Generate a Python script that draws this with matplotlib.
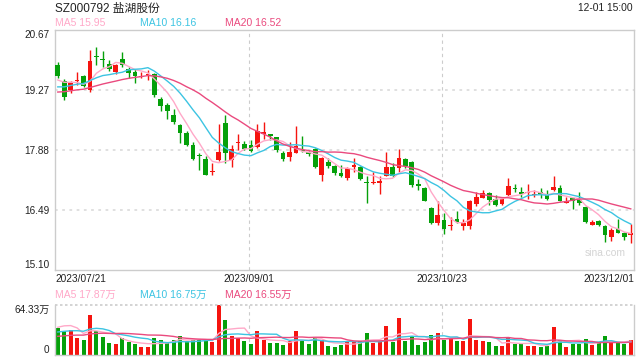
import numpy as np
import pandas as pd
import matplotlib
matplotlib.use('Agg')
import matplotlib.pyplot as plt

plt.rcParams['font.family'] = ['Liberation Sans', 'Noto Sans CJK SC', 'DejaVu Sans']

# daily candles 2023/07/21 .. 2023/12/01
opens = [19.86, 19.49, 19.28, 19.49, 19.60, 19.28, 20.05, 20.00, 19.88, 19.69,
         20.00, 19.77, 19.70, 19.58, 19.62, 19.65, 19.08, 18.93, 18.70, 18.47,
         18.27, 18.00, 17.75, 17.67, 17.37, 17.65, 18.51, 17.65, 18.04, 18.02,
         18.00, 17.95, 18.26, 18.25, 18.18, 17.81, 17.72, 17.82, 17.89, 17.84,
         17.91, 17.31, 17.61, 17.51, 17.36, 17.23, 17.50, 17.50, 17.14, 17.12,
         17.13, 17.28, 17.48, 17.46, 17.68, 17.61, 17.08, 17.00, 16.55, 16.20,
         16.26, 16.11, 16.28, 16.12, 16.11, 16.63, 16.76, 16.88, 16.74, 16.63,
         16.84, 16.99, 16.92, 16.88, 16.85, 16.90, 16.86, 16.96, 17.01, 16.66,
         16.76, 16.73, 16.57, 16.14, 16.24, 16.12, 15.86, 16.05, 15.97, 15.91]
highs = [19.93, 19.53, 19.49, 19.69, 19.63, 20.21, 20.28, 20.18, 19.97, 19.88,
         20.17, 19.80, 19.76, 19.69, 19.74, 19.68, 19.11, 18.97, 18.84, 18.49,
         18.33, 18.08, 17.82, 17.75, 17.59, 18.49, 18.70, 18.00, 18.25, 18.10,
         18.12, 18.50, 18.53, 18.26, 18.19, 17.87, 18.06, 18.44, 18.21, 17.86,
         17.92, 17.73, 17.69, 17.54, 17.54, 17.48, 17.69, 17.51, 17.27, 17.38,
         17.28, 17.83, 17.58, 17.91, 17.69, 17.63, 17.21, 17.02, 16.57, 16.69,
         16.42, 16.32, 16.47, 16.28, 16.72, 16.92, 16.96, 16.92, 16.84, 16.76,
         17.23, 17.10, 17.03, 17.10, 16.96, 17.00, 16.96, 17.28, 17.07, 16.80,
         16.78, 16.90, 16.59, 16.26, 16.26, 16.14, 16.07, 16.28, 15.99, 16.16]
lows = [19.55, 19.04, 19.20, 19.39, 19.34, 19.22, 19.86, 19.82, 19.73, 19.66,
        19.82, 19.55, 19.43, 19.55, 19.52, 19.11, 18.80, 18.60, 18.50, 18.04,
        17.98, 17.65, 17.41, 17.31, 17.31, 17.63, 17.58, 17.50, 17.88, 17.88,
        17.84, 17.92, 18.15, 18.12, 17.85, 17.62, 17.63, 17.81, 17.85, 17.75,
        17.47, 17.17, 17.46, 17.31, 17.25, 17.19, 17.38, 17.20, 16.66, 17.09,
        16.86, 17.27, 17.25, 17.37, 17.46, 17.02, 16.96, 16.69, 16.17, 16.14,
        15.94, 16.03, 16.20, 16.03, 16.04, 16.59, 16.76, 16.61, 16.59, 16.61,
        16.82, 16.92, 16.80, 16.74, 16.79, 16.76, 16.73, 16.94, 16.69, 16.65,
        16.51, 16.61, 16.20, 16.14, 16.13, 15.74, 15.78, 15.95, 15.80, 15.73]
closes = [19.61, 19.11, 19.46, 19.51, 19.36, 19.96, 20.04, 19.97, 19.76, 19.86,
          19.86, 19.67, 19.60, 19.60, 19.64, 19.16, 18.91, 18.80, 18.53, 18.27,
          18.00, 17.67, 17.74, 17.31, 17.39, 17.84, 17.82, 17.91, 18.07, 17.91,
          17.87, 18.33, 18.30, 18.21, 17.89, 17.68, 17.84, 17.98, 17.87, 17.79,
          17.48, 17.71, 17.51, 17.36, 17.27, 17.46, 17.54, 17.21, 17.11, 17.14,
          17.14, 17.48, 17.27, 17.71, 17.52, 17.07, 17.06, 16.71, 16.20, 16.38,
          16.05, 16.14, 16.22, 16.20, 16.70, 16.80, 16.88, 16.73, 16.61, 16.75,
          17.05, 16.98, 16.86, 16.90, 16.86, 16.86, 16.75, 17.03, 16.71, 16.71,
          16.69, 16.65, 16.22, 16.22, 16.14, 15.91, 16.03, 15.97, 15.86, 15.97]
# volume, 万手
volumes = [34.7, 30.9, 31.7, 22.0, 19.0, 52.1, 30.9, 22.9, 15.7, 14.0,
           21.6, 16.9, 14.0, 10.2, 10.2, 21.6, 19.0, 16.1, 19.0, 25.0,
           17.4, 19.0, 20.3, 17.8, 16.9, 64.33, 44.4, 24.1, 22.0, 18.2,
           14.0, 30.5, 19.0, 14.8, 15.7, 12.7, 17.8, 30.5, 18.2, 14.0,
           22.4, 19.0, 11.4, 10.6, 12.7, 16.9, 18.2, 18.2, 28.4, 15.7,
           17.8, 37.2, 16.9, 47.4, 18.2, 24.1, 12.7, 16.9, 25.4, 28.4,
           19.9, 21.2, 18.2, 18.2, 45.7, 19.0, 18.2, 16.9, 11.4, 11.4,
           23.2, 14.0, 14.0, 11.8, 11.8, 10.6, 12.2, 35.5, 19.7, 10.6,
           14.5, 14.5, 20.8, 13.1, 15.2, 24.1, 16.1, 15.7, 14.0, 19.45]
# sessions before 07/21, only used to seed the moving averages
prev_closes = [18.95, 19.02, 19.10, 19.05, 19.18, 19.22, 19.15, 19.08, 19.20, 19.15,
               19.10, 19.15, 19.22, 19.18, 19.30, 19.38, 19.45, 19.55, 19.56]
prev_volumes = [17, 20, 16, 19, 22, 18, 17, 21, 16, 18,
                22, 25, 21, 26, 23.3, 22, 30, 37, 55]

date_idx = [0, 30, 60, 89]
date_labels = ['2023/07/21', '2023/09/01', '2023/10/23', '2023/12/01']
price_ticks = [15.10, 16.49, 17.88, 19.27, 20.67]
vol_top = 64.33
title = 'SZ000792 盐湖股份'
stamp = '12-01 15:00'
ma_names = ['MA5', 'MA10', 'MA20']
ma_price_txt = ['15.95', '16.16', '16.52']
ma_vol_txt = ['17.87万', '16.75万', '16.55万']

RED = '#f5140f'
GREEN = '#05a00a'
MA_COLORS = ['#ffa8c8', '#3cc4e2', '#ea4a7e']
GRID = '#dddddd'
EDGE = '#cccccc'


def moving(vals, prev, n):
    s = pd.Series(list(prev) + list(vals)).rolling(n).mean()
    return s.values[len(prev):]


o = np.array(opens); h = np.array(highs); l = np.array(lows); c = np.array(closes)
v = np.array(volumes)
x = np.arange(len(c))
cols = [RED if cc >= oo else GREEN for oo, cc in zip(o, c)]

fig = plt.figure(figsize=(6.4, 3.6), dpi=100)
W, H = 640, 360
ax = fig.add_axes([55 / W, 1 - 270 / H, 579 / W, 240 / H])
axv = fig.add_axes([55 / W, 1 - 355 / H, 579 / W, 50 / H])

xlim = (-0.43, 89.5)
line_x = [d - 0.35 for d in date_idx]

# --- price panel
for g in price_ticks[1:-1]:
    ax.axhline(g, color=GRID, lw=1.3, ls=(0, (1.5, 2.5)), zorder=0)
for lx in line_x[1:3]:
    ax.axvline(lx, color=EDGE, lw=0.8, ls=(0, (3, 3)), zorder=0)

ax.vlines(x, l, h, colors=cols, lw=1, zorder=2)
body_lo = np.minimum(o, c)
body_h = np.maximum(np.abs(c - o), 0.025)
ax.bar(x, body_h, 0.74, bottom=body_lo, color=cols, lw=0, zorder=3)
for n, col in zip([5, 10, 20], MA_COLORS):
    ax.plot(x, moving(c, prev_closes, n), color=col, lw=1, zorder=4)

ax.set_xlim(*xlim)
ax.set_ylim(price_ticks[0], price_ticks[-1])
ax.set_xticks([])
ax.set_yticks(price_ticks)
ax.set_yticklabels(['%.2f' % t for t in price_ticks])
ax.tick_params(axis='y', length=0, labelsize=7.2, labelcolor='#222222', pad=4)
labs = ax.get_yticklabels()
labs[0].set_va('bottom')
labs[-1].set_va('top')
for sp in ax.spines.values():
    sp.set_color(EDGE)
    sp.set_linewidth(1)

ax.text(0.985, 0.07, 'sina.com', transform=ax.transAxes, ha='right', va='center',
        fontsize=7.4, color='#d4d4d4')

# date labels under the price panel
ha_list = ['left', 'center', 'center', 'right']
for i, (lx, lab) in enumerate(zip(line_x, date_labels)):
    xx = xlim[0] if i == 0 else (xlim[1] if i == 3 else lx)
    ax.annotate(lab, (xx, price_ticks[0]), xytext=(0, -3), textcoords='offset points',
                ha=ha_list[i], va='top', fontsize=7.3, color='#222222',
                annotation_clip=False)

# --- volume panel
for lx in line_x[1:3]:
    axv.axvline(lx, color=EDGE, lw=0.8, ls=(0, (3, 3)), zorder=0)
axv.bar(x, v, 0.62, color=cols, lw=0, zorder=2)
for n, col in zip([5, 10, 20], MA_COLORS):
    axv.plot(x, moving(v, prev_volumes, n), color=col, lw=1, zorder=3)
axv.set_xlim(*xlim)
axv.set_ylim(0, vol_top)
axv.set_xticks([])
axv.set_yticks([0, vol_top])
axv.set_yticklabels(['0', '%.2f万' % vol_top])
axv.tick_params(axis='y', length=0, labelsize=7.2, labelcolor='#222222', pad=4)
vl = axv.get_yticklabels()
vl[0].set_va('bottom')
vl[1].set_va('top')
for sp in axv.spines.values():
    sp.set_color(EDGE)
    sp.set_linewidth(1)
axv.spines['top'].set_visible(False)
axv.axhline(vol_top, color=EDGE, lw=1.2, ls=(0, (1.5, 1.5)), clip_on=False)

# --- header texts
fig.text(55 / W, 1 - 8.5 / H, title, ha='left', va='center', fontsize=8.5, color='#222222')
fig.text(633 / W, 1 - 8 / H, stamp, ha='right', va='center', fontsize=7.4, color='#222222')
leg_x = [55, 140.5, 225]
for name, pv, vv, col, lx in zip(ma_names, ma_price_txt, ma_vol_txt, MA_COLORS, leg_x):
    fig.text(lx / W, 1 - 23.5 / H, name + ' ' + pv, ha='left', va='center',
             fontsize=7.5, color=col)
    fig.text(lx / W, 1 - 294.5 / H, name + ' ' + vv, ha='left', va='center',
             fontsize=7.5, color=col)

fig.savefig('out.png', dpi=100, facecolor='white')
